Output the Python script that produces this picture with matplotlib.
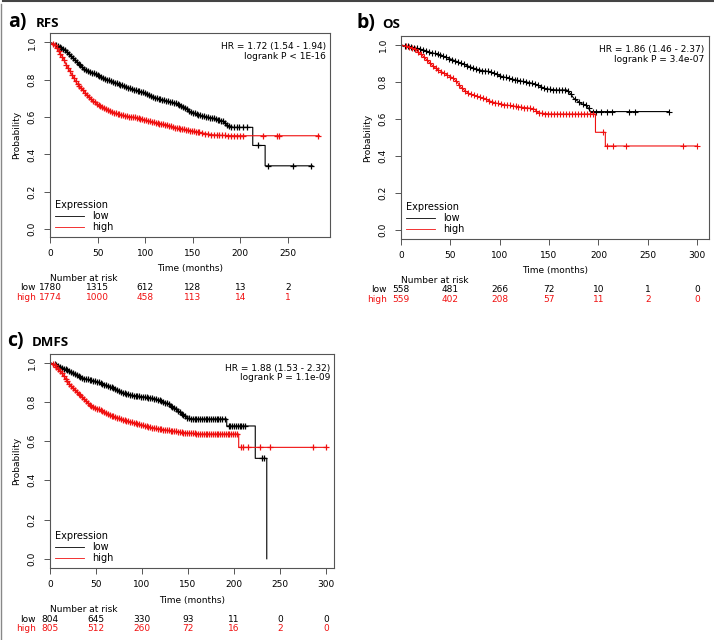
import matplotlib
matplotlib.use("Agg")
import matplotlib.pyplot as plt
from matplotlib.lines import Line2D
import numpy as np

plt.rcParams["font.family"] = "DejaVu Sans"

# Datos (tiempo en meses, probabilidad de supervivencia)
# ---- a) RFS ----
rfs_low_t = [0, 5, 10, 17.5, 25, 35, 42, 49, 60, 70, 80, 87.5, 98, 105, 112, 122, 130,
             136, 142, 147, 157, 165, 171, 177, 182, 186, 189, 213, 213, 226, 226, 276]
rfs_low_s = [1, 0.99, 0.975, 0.952, 0.91, 0.862, 0.842, 0.827, 0.80, 0.78, 0.762, 0.746,
             0.732, 0.715, 0.70, 0.687, 0.676, 0.666, 0.65, 0.63, 0.61, 0.60, 0.595, 0.585,
             0.577, 0.56, 0.545, 0.545, 0.448, 0.448, 0.339, 0.339]
rfs_high_t = [0, 4, 7, 10, 14, 17, 21, 25, 28, 35, 42, 49, 55, 59.5, 65, 70, 80, 87.5, 95,
              105, 115, 122, 129.5, 136, 143, 150, 157, 165, 171, 180, 192, 283]
rfs_high_s = [1, 0.99, 0.97, 0.945, 0.916, 0.88, 0.845, 0.81, 0.782, 0.743, 0.70, 0.67,
              0.652, 0.64, 0.628, 0.618, 0.605, 0.60, 0.59, 0.577, 0.565, 0.559, 0.545,
              0.538, 0.532, 0.525, 0.518, 0.51, 0.505, 0.502, 0.50, 0.50]
rfs_low_cens = [6, 8, 10, 12, 14, 16, 18, 20, 22, 24, 26, 28, 30, 32, 34, 36, 38, 40, 42,
                44, 46, 48, 50, 52, 54, 56, 58, 60, 62, 64, 66, 68, 70, 72, 74, 76, 78, 80,
                82, 84, 86, 88, 90, 92, 94, 96, 98, 100, 102, 104, 106, 108, 110, 112, 114,
                116, 118, 120, 122, 124, 126, 128, 130, 132, 134, 136, 138, 140, 142, 144,
                146, 148, 150, 152, 154, 156, 158, 160, 162, 164, 166, 168, 170, 172, 174,
                176, 178, 180, 182, 184, 186, 188, 190, 193, 196, 199, 203, 207, 218, 229,
                255, 274]
rfs_high_cens = [3, 5, 7, 9, 11, 13, 15, 17, 19, 21, 23, 25, 27, 29, 31, 33, 35, 37, 39,
                 41, 43, 45, 47, 49, 51, 53, 55, 57, 59, 61, 63, 65, 67, 69, 71, 73, 75, 77,
                 79, 81, 83, 85, 87, 89, 91, 93, 95, 97, 99, 101, 103, 105, 107, 109, 111,
                 113, 115, 117, 119, 121, 123, 125, 127, 129, 131, 133, 135, 137, 139, 141,
                 143, 145, 147, 149, 151, 153, 155, 157, 160, 163, 166, 169, 172, 175, 178,
                 181, 184, 187, 190, 193, 196, 200, 203, 224, 238, 241, 282]
rfs_ticks = [0, 50, 100, 150, 200, 250]
rfs_risk_low = ["1780", "1315", "612", "128", "13", "2"]
rfs_risk_high = ["1774", "1000", "458", "113", "14", "1"]

# ---- b) OS ----
os_low_t = [0, 10, 23, 30, 40, 50, 57, 65, 74, 82, 90.5, 95, 101, 108, 114, 122, 131, 138,
            145, 152, 158, 168, 172, 175, 182, 188.5, 192, 271]
os_low_s = [1, 0.99, 0.973, 0.96, 0.946, 0.925, 0.91, 0.893, 0.874, 0.862, 0.856, 0.845,
            0.832, 0.822, 0.814, 0.805, 0.796, 0.785, 0.766, 0.76, 0.757, 0.757, 0.735,
            0.712, 0.685, 0.67, 0.64, 0.64]
os_high_t = [0, 8, 13, 18, 23, 28, 33, 38, 43, 48, 53, 57, 60, 65, 70, 77, 84, 90, 97, 105,
             114, 122, 131, 136, 138, 145, 151, 192, 197, 197, 207, 207, 300]
os_high_s = [1, 0.99, 0.98, 0.96, 0.937, 0.91, 0.883, 0.865, 0.85, 0.835, 0.82, 0.80, 0.775,
             0.752, 0.735, 0.722, 0.712, 0.697, 0.685, 0.677, 0.67, 0.664, 0.658, 0.652,
             0.634, 0.63, 0.627, 0.627, 0.627, 0.528, 0.528, 0.454, 0.454]
os_low_cens = [4, 7, 10, 13, 16, 19, 22, 25, 28, 31, 34, 37, 40, 43, 46, 49, 52, 55, 58,
               61, 64, 67, 70, 73, 76, 79, 82, 85, 88, 91, 94, 97, 100, 103, 106, 109, 112,
               115, 118, 121, 124, 127, 130, 133, 136, 139, 142, 145, 148, 151, 154, 157,
               160, 163, 166, 169, 172, 176, 180, 184, 187, 190, 195, 198, 203, 209, 214,
               231, 237, 271]
os_high_cens = [5, 8, 11, 14, 17, 20, 23, 26, 29, 32, 35, 38, 41, 44, 47, 50, 53, 56, 59,
                62, 65, 68, 71, 74, 77, 80, 83, 86, 89, 92, 95, 98, 101, 104, 107, 110, 113,
                116, 119, 122, 125, 128, 131, 134, 137, 140, 143, 146, 149, 152, 155, 158,
                161, 164, 167, 170, 173, 176, 179, 182, 185, 188, 191, 194, 205, 209, 215,
                228, 286, 300]
os_ticks = [0, 50, 100, 150, 200, 250, 300]
os_risk_low = ["558", "481", "266", "72", "10", "1", "0"]
os_risk_high = ["559", "402", "208", "57", "11", "2", "0"]

# ---- c) DMFS ----
dmfs_low_t = [0, 8, 18, 27, 36, 45, 51, 58, 65, 72, 80, 87, 94, 103, 112, 118, 123, 128,
              134, 140, 145, 149, 152, 192, 192, 223, 223, 235.5, 235.5]
dmfs_low_s = [1, 0.985, 0.963, 0.94, 0.92, 0.91, 0.903, 0.89, 0.878, 0.862, 0.844, 0.835,
              0.83, 0.825, 0.818, 0.81, 0.80, 0.79, 0.772, 0.752, 0.733, 0.72, 0.713, 0.713,
              0.677, 0.677, 0.512, 0.512, 0.0]
dmfs_high_t = [0, 4, 7, 10, 14.5, 18, 22, 27, 32.6, 38, 43.5, 49, 54, 60, 65, 72, 80, 87,
               94, 101, 109, 118, 127, 136, 145, 154, 163, 205, 205, 300]
dmfs_high_s = [1, 0.99, 0.98, 0.96, 0.937, 0.91, 0.886, 0.86, 0.835, 0.81, 0.784, 0.77,
               0.76, 0.745, 0.733, 0.72, 0.707, 0.698, 0.69, 0.68, 0.67, 0.662, 0.656, 0.65,
               0.643, 0.64, 0.636, 0.636, 0.568, 0.568]
dmfs_low_cens = [5, 7, 9, 11, 13, 15, 17, 19, 21, 23, 25, 27, 29, 31, 33, 35, 37, 39, 41,
                 43, 45, 47, 49, 51, 53, 55, 57, 59, 61, 63, 65, 67, 69, 71, 73, 75, 77, 79,
                 81, 83, 85, 87, 89, 91, 93, 95, 97, 99, 101, 103, 105, 107, 109, 111, 113,
                 115, 117, 119, 121, 123, 125, 127, 129, 131, 133, 135, 137, 139, 141, 143,
                 145, 147, 149, 151, 153, 155, 157, 159, 161, 163, 165, 167, 169, 171, 173,
                 175, 177, 179, 181, 183, 185, 187, 190, 194, 196, 198, 200, 202, 204, 206,
                 208, 210, 212, 230, 232]
dmfs_high_cens = [3, 5, 7, 9, 11, 13, 15, 17, 19, 21, 23, 25, 27, 29, 31, 33, 35, 37, 39,
                  41, 43, 45, 47, 49, 51, 53, 55, 57, 59, 61, 63, 65, 67, 69, 71, 73, 75, 77,
                  79, 81, 83, 85, 87, 89, 91, 93, 95, 97, 99, 101, 103, 105, 107, 109, 111,
                  113, 115, 117, 119, 121, 123, 125, 127, 129, 131, 133, 135, 137, 139, 141,
                  143, 145, 147, 149, 151, 153, 155, 157, 159, 161, 163, 165, 167, 169, 171,
                  173, 175, 177, 179, 181, 183, 185, 187, 189, 191, 193, 195, 197, 199, 201,
                  203, 207, 210, 215, 228, 239, 286, 300]
dmfs_ticks = [0, 50, 100, 150, 200, 250, 300]
dmfs_risk_low = ["804", "645", "330", "93", "11", "0", "0"]
dmfs_risk_high = ["805", "512", "260", "72", "16", "2", "0"]

# Colores y tamaños
RED = "#f01010"
BOX = "#555555"
FS = 6.5
PX = 0.72  # pixeles a puntos (dpi 100)


def draw_curve(ax, t, s, cens, color, ms, mew):
    ax.plot(t, s, color=color, lw=0.8)
    # marcas de censura sobre la curva
    ax.plot(cens, np.interp(cens, t, s), ls="none", marker="+",
            ms=ms, mew=mew, color=color)


def draw_panel(ax, curves, ticks, xmax, ylim, risk_low, risk_high, hr, p,
               ms=5.0, mew=0.9):
    for t, s, cens, color in curves:
        draw_curve(ax, t, s, cens, color, ms, mew)
    ax.set_xlim(0, xmax)
    ax.set_ylim(*ylim)
    ax.set_xticks(ticks)
    ax.set_xticklabels([str(v) for v in ticks], fontsize=FS)
    yt = [0.0, 0.2, 0.4, 0.6, 0.8, 1.0]
    ax.set_yticks(yt)
    ax.set_yticklabels(["%.1f" % v for v in yt], fontsize=FS,
                       rotation=90, va="center")
    for sp in ax.spines.values():
        sp.set_color(BOX)
        sp.set_linewidth(0.8)
    ax.tick_params(direction="out", length=4, width=0.7, color=BOX, pad=4.5)
    ax.tick_params(axis="y", pad=5.5)
    ax.set_ylabel("Probability", fontsize=FS, labelpad=5)
    # Texto HR
    ax.text(0.985, 0.955, hr + "\n" + p, transform=ax.transAxes,
            ha="right", va="top", fontsize=FS, linespacing=1.1)
    # Leyenda
    handles = [Line2D([], [], color="black", lw=0.6),
               Line2D([], [], color=RED, lw=0.6)]
    leg = ax.legend(handles, ["low", "high"], title="Expression",
                    loc="lower left", frameon=False, fontsize=7,
                    title_fontsize=7, handlelength=3.0, handletextpad=0.8,
                    borderaxespad=0.2, labelspacing=0.1, borderpad=0.3)
    leg._legend_box.align = "left"
    # Eje x y numero en riesgo
    def below(txt, x, off, ha="center", color="black", coords="data"):
        ax.annotate(txt, xy=(x, 0), xycoords=(coords, "axes fraction"),
                    xytext=(0, -off * PX), textcoords="offset points",
                    ha=ha, va="center", fontsize=FS, color=color,
                    annotation_clip=False)
    below("Time (months)", 0.5, 32, coords="axes fraction")
    below("Number at risk", 0, 42, ha="left", coords="axes fraction")
    for x, lo, hi in zip(ticks, risk_low, risk_high):
        below(lo, x, 51)
        below(hi, x, 60.5, color=RED)
    for txt, off, color in [("low", 51, "black"), ("high", 60.5, RED)]:
        ax.annotate(txt, xy=(0, 0), xycoords="axes fraction",
                    xytext=(-14 * PX, -off * PX), textcoords="offset points",
                    ha="right", va="center", fontsize=FS, color=color,
                    annotation_clip=False)


fig = plt.figure(figsize=(7.14, 6.4), dpi=100)

ax_a = fig.add_axes([0.070, 0.630, 0.392, 0.319])
draw_panel(ax_a,
           [(rfs_low_t, rfs_low_s, rfs_low_cens, "black"),
            (rfs_high_t, rfs_high_s, rfs_high_cens, RED)],
           rfs_ticks, 294, (-0.041, 1.052), rfs_risk_low, rfs_risk_high,
           "HR = 1.72 (1.54 - 1.94)", "logrank P < 1E-16")

ax_b = fig.add_axes([0.5616, 0.6266, 0.4314, 0.3172])
draw_panel(ax_b,
           [(os_low_t, os_low_s, os_low_cens, "black"),
            (os_high_t, os_high_s, os_high_cens, RED)],
           os_ticks, 312, (-0.049, 1.049), os_risk_low, os_risk_high,
           "HR = 1.86 (1.46 - 2.37)", "logrank P = 3.4e-07", ms=4.5, mew=0.8)

ax_c = fig.add_axes([0.070, 0.1125, 0.398, 0.3344])
draw_panel(ax_c,
           [(dmfs_low_t, dmfs_low_s, dmfs_low_cens, "black"),
            (dmfs_high_t, dmfs_high_s, dmfs_high_cens, RED)],
           dmfs_ticks, 308.7, (-0.047, 1.044), dmfs_risk_low, dmfs_risk_high,
           "HR = 1.88 (1.53 - 2.32)", "logrank P = 1.1e-09")

# Titulos de los paneles
for x, y, letter, name, dx in [(8, 27, "a)", "RFS", 36),
                               (357, 28, "b)", "OS", 382),
                               (7, 346, "c)", "DMFS", 32)]:
    fig.text(x / 714, 1 - y / 640, letter, fontsize=14, fontweight="bold",
             family="Open Sans", va="baseline")
    fig.text(dx / 714, 1 - y / 640, name, fontsize=9.5, fontweight="bold",
             family="Open Sans", va="baseline")

# Marco de la figura
fig.add_artist(Line2D([0.004, 1], [0.998, 0.998], color="#444444", lw=1.5))
fig.add_artist(Line2D([0.001, 0.001], [0, 0.994], color="#888888", lw=1.0))

fig.savefig("out.png", dpi=100)
